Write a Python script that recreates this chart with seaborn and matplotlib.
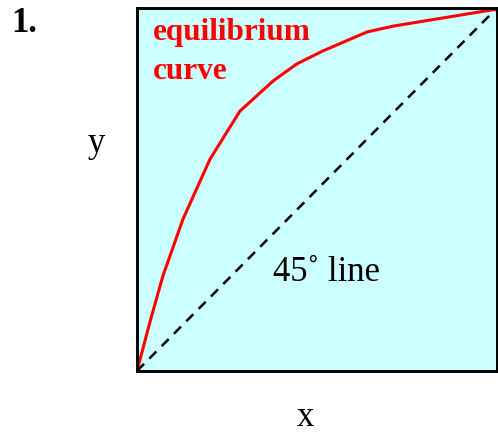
import numpy as np
import pandas as pd
import matplotlib.pyplot as plt
import seaborn as sns

# equilibrium curve (fractions of the axes)
x_eq = [0.0, 0.036, 0.072, 0.128, 0.203, 0.286, 0.378, 0.444, 0.517, 0.639, 0.711, 1.0]
y_eq = [0.0, 0.135, 0.262, 0.419, 0.584, 0.716, 0.799, 0.846, 0.882, 0.934, 0.950, 0.997]
x_diag = [0.0, 1.0]
y_diag = [0.0, 1.0]

df_eq = pd.DataFrame({'x': x_eq, 'y': y_eq})
df_diag = pd.DataFrame({'x': x_diag, 'y': y_diag})

sns.set_style('white')
plt.rcParams['font.family'] = ['Liberation Serif', 'DejaVu Serif']
plt.rcParams['text.color'] = 'black'

fig = plt.figure(figsize=(4.98, 4.35), dpi=100)
ax = fig.add_axes([137 / 498, 63 / 435, 360 / 498, 363 / 435])
ax.set_facecolor('#ccffff')

sns.lineplot(data=df_diag, x='x', y='y', ax=ax, color='black', linewidth=1.8)
ax.lines[-1].set_dashes((4, 3))
sns.lineplot(data=df_eq, x='x', y='y', ax=ax, color='red', linewidth=2.2, sort=False)

ax.set_xlim(0, 1)
ax.set_ylim(0, 1)
ax.set_xticks([])
ax.set_yticks([])
ax.set_xlabel('')
ax.set_ylabel('')
for s in ax.spines.values():
    s.set_color('black')
    s.set_linewidth(2.1)

ax.text(0.045, 0.975, 'equilibrium\ncurve', transform=ax.transAxes, color='red',
        fontsize=22.5, fontweight='bold', va='top', ha='left', linespacing=1.45)
ax.text(0.378, 0.275, '45\u02da line', transform=ax.transAxes, fontsize=25,
        va='center', ha='left', color='black')

fig.text(96 / 498, 1 - 143 / 435, 'y', fontsize=25, ha='center', va='center', color='black')
fig.text(305 / 498, 1 - 418 / 435, 'x', fontsize=25, ha='center', va='center', color='black')
fig.text(11 / 498, 1 - 7 / 435, '1.', fontsize=25, fontweight='bold', ha='left', va='top',
         color='black')

fig.savefig('out.png', dpi=100)
